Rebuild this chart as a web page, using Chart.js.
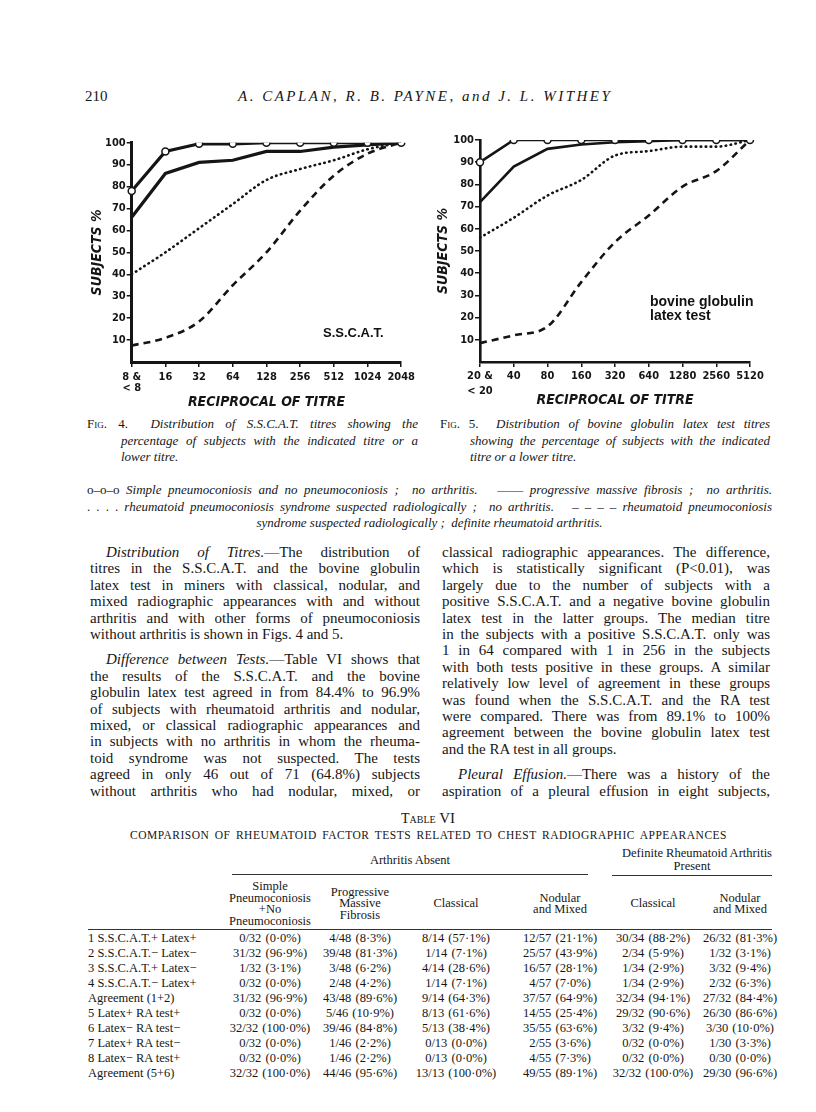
<!DOCTYPE html>
<html>
<head>
<meta charset="utf-8"/>
<title>Distribution of S.S.C.A.T. and bovine globulin latex test titres</title>
<script src="https://cdn.jsdelivr.net/npm/chart.js"></script>
<style>
html, body { margin: 0; padding: 0; background: #fff; }
#page {
  position: relative; width: 816px; height: 1112px; overflow: hidden;
  font-family: 'Liberation Serif', 'Times New Roman', serif; color: #161616;
}
.abs { position: absolute; white-space: nowrap; }
canvas.fig { position: absolute; }
.col { position: absolute; font-size: 15px; line-height: 16.4px; }
.col div { white-space: nowrap; text-align: justify; text-align-last: justify; }
.col div.end { text-align-last: left; }
.col div.ind { padding-left: 16px; }
.col .gap { margin-top: 9px; }
.cap { position: absolute; font-size: 13px; line-height: 16.5px; font-style: italic; }
.cap div { white-space: nowrap; text-align: justify; text-align-last: justify; }
.cap div.end { text-align-last: left; }
.sc { font-style: normal; font-variant: small-caps; }
.up { font-style: normal; }
.inlabel { position: absolute; font-family: 'Liberation Sans', Arial, sans-serif; font-weight: bold; font-size: 14px; line-height: 13.5px; color: #111; }
.tb { position: absolute; font-size: 12.5px; line-height: 12px; white-space: nowrap; }
.tb.num { word-spacing: 1px; }
.rule { position: absolute; height: 1px; background: #333; }
</style>
</head>
<body>
<div id="page">

  <div class="abs" style="left:85px; top:88px; font-size:15px;">210</div>
  <div class="abs" style="left:238px; top:88px; font-size:15px; font-style:italic; letter-spacing:2.5px;">A. CAPLAN, R. B. PAYNE, and J. L. WITHEY</div>

  <canvas id="fig4" class="fig" width="340" height="290" style="left:80px; top:125px;"></canvas>
  <canvas id="fig5" class="fig" width="340" height="290" style="left:430px; top:125px;"></canvas>

  <div class="inlabel" style="left:323px; top:326px; font-size:13px;">S.S.C.A.T.</div>
  <div class="inlabel" style="left:650px; top:295px;">bovine globulin<br>latex test</div>

  <div class="cap" style="left:87px; top:416px; width:331px;">
    <div><span class="sc">Fig.</span><span class="up"> 4.</span>&nbsp; Distribution of S.S.C.A.T. titres showing the</div>
    <div style="padding-left:34px;">percentage of subjects with the indicated titre or a</div>
    <div class="end" style="padding-left:34px;">lower titre.</div>
  </div>
  <div class="cap" style="left:440px; top:416px; width:330px;">
    <div><span class="sc">Fig.</span><span class="up"> 5.</span>&nbsp; Distribution of bovine globulin latex test titres</div>
    <div style="padding-left:30px;">showing the percentage of subjects with the indicated</div>
    <div class="end" style="padding-left:30px;">titre or a lower titre.</div>
  </div>

  <div class="cap" style="left:87px; top:482px; width:685px;">
    <div><span class="up">o–o–o</span> Simple pneumoconiosis and no pneumoconiosis ;&nbsp; no arthritis. &nbsp; <span class="up">——</span> progressive massive fibrosis ;&nbsp; no arthritis.</div>
    <div><span class="up">. . . .</span> rheumatoid pneumoconiosis syndrome suspected radiologically ;&nbsp; no arthritis. &nbsp; <span class="up">– – – –</span> rheumatoid pneumoconiosis</div>
    <div class="end" style="text-align:center; text-align-last:center;">syndrome suspected radiologically ;&nbsp; definite rheumatoid arthritis.</div>
  </div>

  <div class="col" style="left:90px; top:544px; width:330px;">
    <div class="ind"><i>Distribution of Titres.</i>—The distribution of</div>
    <div>titres in the S.S.C.A.T. and the bovine globulin</div>
    <div>latex test in miners with classical, nodular, and</div>
    <div>mixed radiographic appearances with and without</div>
    <div>arthritis and with other forms of pneumoconiosis</div>
    <div class="end">without arthritis is shown in Figs. 4 and 5.</div>
    <div class="ind gap"><i>Difference between Tests.</i>—Table VI shows that</div>
    <div>the results of the S.S.C.A.T. and the bovine</div>
    <div>globulin latex test agreed in from 84.4% to 96.9%</div>
    <div>of subjects with rheumatoid arthritis and nodular,</div>
    <div>mixed, or classical radiographic appearances and</div>
    <div>in subjects with no arthritis in whom the rheuma-</div>
    <div>toid syndrome was not suspected. The tests</div>
    <div>agreed in only 46 out of 71 (64.8%) subjects</div>
    <div>without arthritis who had nodular, mixed, or</div>
  </div>

  <div class="col" style="left:442px; top:544px; width:328px;">
    <div>classical radiographic appearances. The difference,</div>
    <div>which is statistically significant (P&lt;0.01), was</div>
    <div>largely due to the number of subjects with a</div>
    <div>positive S.S.C.A.T. and a negative bovine globulin</div>
    <div>latex test in the latter groups. The median titre</div>
    <div>in the subjects with a positive S.S.C.A.T. only was</div>
    <div>1 in 64 compared with 1 in 256 in the subjects</div>
    <div>with both tests positive in these groups. A similar</div>
    <div>relatively low level of agreement in these groups</div>
    <div>was found when the S.S.C.A.T. and the RA test</div>
    <div>were compared. There was from 89.1% to 100%</div>
    <div>agreement between the bovine globulin latex test</div>
    <div class="end">and the RA test in all groups.</div>
    <div class="ind gap"><i>Pleural Effusion.</i>—There was a history of the</div>
    <div>aspiration of a pleural effusion in eight subjects,</div>
  </div>

  <div class="abs" style="left:0; width:856px; top:810px; text-align:center; font-size:14px;"><span style="font-variant:small-caps;">Table</span> <span style="font-size:15px;">VI</span></div>
  <div class="abs" style="left:130px; width:597px; top:829px; font-size:11.5px; letter-spacing:0.5px; text-align:justify; text-align-last:justify;">COMPARISON OF RHEUMATOID FACTOR TESTS RELATED TO CHEST RADIOGRAPHIC APPEARANCES</div>

  <div id="table"></div>

</div>

<script>
// Fig. 4 - S.S.C.A.T. titres (cumulative % of subjects with titre or lower)
const sscatTitres = [['8 &', '< 8'], '16', '32', '64', '128', '256', '512', '1024', '2048'];
const sscatSimple = [78, 96, 99.5, 99.5, 100, 100, 100, 100, 100];
const sscatPmf = [66, 86, 91, 92, 96, 96, 98, 99, 100];
const sscatSuspected = [40, 50, 61, 72, 83, 88, 92, 97, 100];
const sscatDefinite = [7.5, 11, 18.5, 35, 50, 69, 85, 95, 100];

// Fig. 5 - bovine globulin latex test titres
const latexTitres = [['20 &', '< 20'], '40', '80', '160', '320', '640', '1280', '2560', '5120'];
const latexSimple = [90, 100, 100, 100, 100, 100, 100, 100, 100];
const latexPmf = [72, 88, 96, 98, 99, 99.5, 100, 100, 100];
const latexSuspected = [56, 65, 75, 82, 93, 95, 97, 97, 100];
const latexDefinite = [8.5, 12, 16, 36, 54, 66, 79, 86, 100];

const subjectTicks = [10, 20, 30, 40, 50, 60, 70, 80, 90, 100];

const INK = '#151515';
const NARROW = "'Liberation Sans Narrow', 'DejaVu Sans Condensed', 'Liberation Sans', sans-serif";

function makeDatasets(simple, pmf, suspected, definite, w) {
  return [
    { data: simple, borderColor: INK, borderWidth: w, order: 0,
      pointRadius: 3.5, pointBackgroundColor: '#fff', pointBorderColor: INK, pointBorderWidth: 1.5 },
    { data: pmf, borderColor: INK, borderWidth: w, order: 1, pointRadius: 0 },
    { data: suspected, borderColor: INK, borderWidth: 2.6, borderDash: [0.5, 4.5], borderCapStyle: 'round',
      cubicInterpolationMode: 'monotone', order: 2, pointRadius: 0 },
    { data: definite, borderColor: INK, borderWidth: 2.6, borderDash: [7, 5],
      cubicInterpolationMode: 'monotone', order: 3, pointRadius: 0 }
  ];
}

function makeChart(id, titres, datasets, o) {
  return new Chart(document.getElementById(id), {
    type: 'line',
    data: { labels: titres, datasets: datasets },
    options: {
      responsive: false,
      animation: false,
      events: [],
      layout: { padding: { top: o.padTop, right: o.padRight, left: 0, bottom: 0 } },
      plugins: { legend: { display: false }, tooltip: { enabled: false } },
      scales: {
        x: {
          type: 'category',
          offset: false,
          grid: { drawOnChartArea: false, drawTicks: true, tickLength: 5, color: INK, lineWidth: 1.5 },
          border: { color: INK, width: o.axisW },
          ticks: { color: INK, font: { family: NARROW, size: 11, weight: 'bold', lineHeight: o.xLine },
                   padding: o.xPad, maxRotation: 0, autoSkip: false },
          title: { display: true, text: 'RECIPROCAL OF TITRE', color: INK,
                   font: { family: NARROW, size: 14, weight: 'bold', style: 'italic' },
                   padding: { top: 0, bottom: o.xTitlePad } },
          afterFit: function (s) { s.height = o.xH; }
        },
        y: {
          min: 0,
          max: 100,
          afterBuildTicks: function (s) { s.ticks = subjectTicks.map(function (v) { return { value: v }; }); },
          grid: { drawOnChartArea: false, drawTicks: true, tickLength: 5, color: INK, lineWidth: 1.5 },
          border: { color: INK, width: o.axisW },
          ticks: { color: INK, font: { family: NARROW, size: 11, weight: 'bold' }, padding: 1 },
          title: { display: true, text: 'SUBJECTS %', color: INK,
                   font: { family: NARROW, size: 14, weight: 'bold', style: 'italic' },
                   padding: { top: o.yTitlePad, bottom: 0 } },
          afterFit: function (s) { s.width = o.yW; }
        }
      }
    }
  });
}

makeChart('fig4', sscatTitres,
  makeDatasets(sscatSimple, sscatPmf, sscatSuspected, sscatDefinite, 3.2),
  { padTop: 17.7, padRight: 18, yW: 51.7, xH: 53, axisW: 3, xLine: 1.0, xPad: 5, xTitlePad: 4.6, yTitlePad: 8.6 });

makeChart('fig5', latexTitres,
  makeDatasets(latexSimple, latexPmf, latexSuspected, latexDefinite, 2.6),
  { padTop: 15, padRight: 20, yW: 50, xH: 53, axisW: 2.6, xLine: 1.35, xPad: 2, xTitlePad: 6.6, yTitlePad: 4.6 });

// Table VI text
const tableCols = [270, 360, 456, 560, 653, 740];
const tableRows = [
  ['1 S.S.C.A.T.+ Latex+', '0/32 (0·0%)', '4/48 (8·3%)', '8/14 (57·1%)', '12/57 (21·1%)', '30/34 (88·2%)', '26/32 (81·3%)'],
  ['2 S.S.C.A.T.− Latex−', '31/32 (96·9%)', '39/48 (81·3%)', '1/14 (7·1%)', '25/57 (43·9%)', '2/34 (5·9%)', '1/32 (3·1%)'],
  ['3 S.S.C.A.T.+ Latex−', '1/32 (3·1%)', '3/48 (6·2%)', '4/14 (28·6%)', '16/57 (28·1%)', '1/34 (2·9%)', '3/32 (9·4%)'],
  ['4 S.S.C.A.T.− Latex+', '0/32 (0·0%)', '2/48 (4·2%)', '1/14 (7·1%)', '4/57 (7·0%)', '1/34 (2·9%)', '2/32 (6·3%)'],
  ['Agreement (1+2)', '31/32 (96·9%)', '43/48 (89·6%)', '9/14 (64·3%)', '37/57 (64·9%)', '32/34 (94·1%)', '27/32 (84·4%)'],
  ['5 Latex+ RA test+', '0/32 (0·0%)', '5/46 (10·9%)', '8/13 (61·6%)', '14/55 (25·4%)', '29/32 (90·6%)', '26/30 (86·6%)'],
  ['6 Latex− RA test−', '32/32 (100·0%)', '39/46 (84·8%)', '5/13 (38·4%)', '35/55 (63·6%)', '3/32 (9·4%)', '3/30 (10·0%)'],
  ['7 Latex+ RA test−', '0/32 (0·0%)', '1/46 (2·2%)', '0/13 (0·0%)', '2/55 (3·6%)', '0/32 (0·0%)', '1/30 (3·3%)'],
  ['8 Latex− RA test+', '0/32 (0·0%)', '1/46 (2·2%)', '0/13 (0·0%)', '4/55 (7·3%)', '0/32 (0·0%)', '0/30 (0·0%)'],
  ['Agreement (5+6)', '32/32 (100·0%)', '44/46 (95·6%)', '13/13 (100·0%)', '49/55 (89·1%)', '32/32 (100·0%)', '29/30 (96·6%)']
];
const tableHeads = [
  ['Simple', 'Pneumoconiosis', '+No', 'Pneumoconiosis'],
  ['Progressive', 'Massive', 'Fibrosis'],
  ['Classical'],
  ['Nodular', 'and Mixed'],
  ['Classical'],
  ['Nodular', 'and Mixed']
];

(function buildTable() {
  const page = document.getElementById('table');
  let html = '';
  function cell(x, y, text, center, cls) {
    const st = center ? 'left:' + (x - 70) + 'px; width:140px; text-align:center;' : 'left:' + x + 'px;';
    html += '<div class="tb' + (cls ? ' ' + cls : '') + '" style="' + st + ' top:' + y + 'px;">' + text + '</div>';
  }
  cell(410, 854, 'Arthritis Absent', true);
  cell(692, 847, 'Definite Rheumatoid Arthritis', true);
  cell(692, 860, 'Present', true);
  html += '<div class="rule" style="left:232px; width:356px; top:874px;"></div>';
  html += '<div class="rule" style="left:612px; width:160px; top:875px;"></div>';
  html += '<div class="rule" style="left:88px; width:684px; top:929px;"></div>';
  tableHeads.forEach(function (lines, c) {
    const top = 903 - lines.length * 11.5 / 2;
    lines.forEach(function (t, i) { cell(tableCols[c], top + i * 11.5, t, true); });
  });
  tableRows.forEach(function (row, r) {
    const y = 932 + r * 15;
    cell(88, y, row[0], false);
    for (let c = 1; c < row.length; c++) cell(tableCols[c - 1], y, row[c], true, 'num');
  });
  page.innerHTML = html;
})();
</script>
</body>
</html>
